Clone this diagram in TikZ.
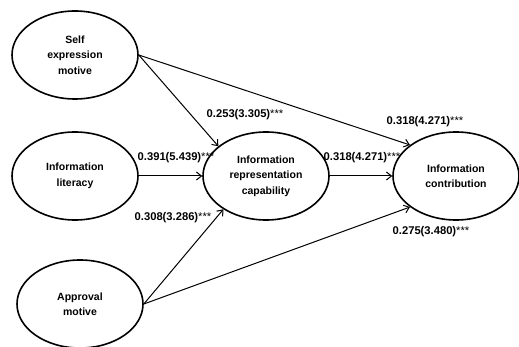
\documentclass[tikz,border=0pt]{standalone}
\usepackage{fontspec}
\setmainfont{Liberation Sans}
\usetikzlibrary{shapes.geometric,arrows.meta}
\begin{document}
\begin{tikzpicture}[x=1pt,y=-1pt,
    latent/.style={ellipse,draw,line width=1.6pt,minimum width=126pt,minimum height=88pt,inner sep=0pt,align=center,font=\fontsize{10.5}{15.5}\selectfont\bfseries},
    coef/.style={font=\fontsize{11.2}{13}\selectfont\bfseries,inner sep=0pt},
    link/.style={line width=1pt,-{Straight Barb[length=5pt,width=8pt]}}]
        \useasboundingbox (0,0) rectangle (519,347);
        %% constructs
        \node[latent] (self) at (75,55) {Self\\expression\\motive};
        \node[latent] (lit) at (75,176) {Information\\literacy};
        \node[latent] (appr) at (80,304) {Approval\\motive};
        \node[latent] (rep) at (266,176) {Information\\representation\\capability};
        \node[latent] (contr) at (456,176) {Information\\contribution};
        %% paths
        \draw[link] (self.east) -- (rep.148);
        \draw[link] (self.east) -- (contr.146);
        \draw[link] (lit.east) -- (rep.west);
        \draw[link] (appr.east) -- (rep.218);
        \draw[link] (appr.east) -- (contr.214);
        \draw[link] (rep.east) -- (contr.west);
        %% coefficients
        \node[coef] (c253) at (245,115) {0.253(3.305){\mdseries***}};
        \node[coef] (c391) at (176,158) {0.391(5.439){\mdseries***}};
        \node[coef] (c308) at (173,218) {0.308(3.286){\mdseries***}};
        \node[coef] (c318a) at (425,122) {0.318(4.271){\mdseries***}};
        \node[coef] (c318b) at (362,158) {0.318(4.271){\mdseries***}};
        \node[coef] (c275) at (431,232) {0.275(3.480){\mdseries***}};
\end{tikzpicture}
\end{document}
